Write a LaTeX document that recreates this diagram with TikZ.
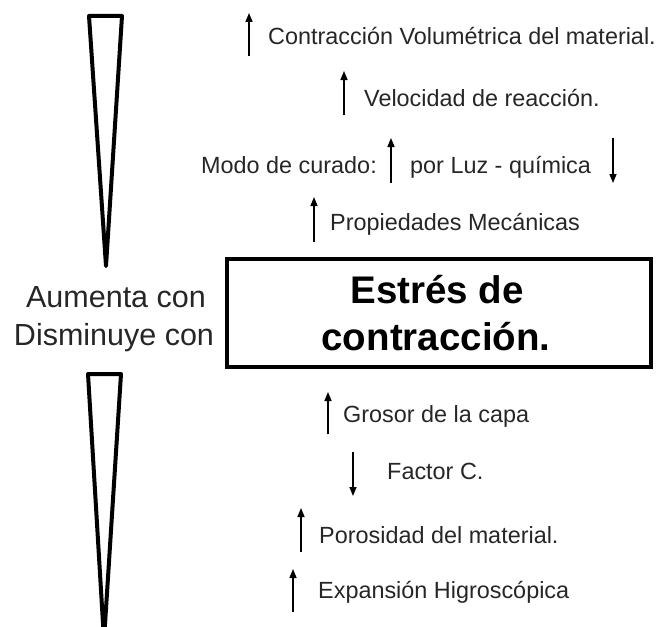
\documentclass[tikz,border=0pt]{standalone}
\usepackage{fontspec}
\setmainfont{Liberation Sans}
\usetikzlibrary{arrows.meta}
\definecolor{txt}{HTML}{262626}
\tikzset{
  lbl/.style={anchor=base west, inner sep=0pt, text=txt, font=\fontsize{23.4}{27}\selectfont},
  side/.style={anchor=base, inner sep=0pt, text=txt, font=\fontsize{30.5}{35}\selectfont},
  big/.style={anchor=base, inner sep=0pt, text=black, font=\fontsize{38.5}{44}\selectfont\bfseries},
  wedge/.style={draw=black, line width=4pt, line join=round},
  upar/.style={line width=1.5pt, -{Triangle[length=9pt,width=7pt]}},
  boxline/.style={draw=black, line width=4pt}
}
\begin{document}
\begin{tikzpicture}[x=1pt,y=-1pt]
\useasboundingbox (0,0) rectangle (658,626);
\begin{scope}
\clip (0,0) rectangle (658,626);
% wedges
\draw[wedge] (89,16) -- (122,16) -- (106,266) -- cycle;
\draw[wedge] (88,374) -- (121,374) -- (104,640) -- cycle;
\end{scope}
% central box
\draw[boxline] (227,259) rectangle (651,367);
\node[big] (t1) at (437,303) {Estrés de};
\node[big] (t2) at (436,350) {contracción.};
% side labels
\node[side] (aum) at (116,307) {Aumenta con};
\node[side] (dis) at (114,345) {Disminuye con};
% upper items
\draw[upar] (249,56) -- (249,13);
\node[lbl] (c1) at (268,45) {Contracción Volumétrica del material.};
\draw[upar] (344,115) -- (344,71);
\node[lbl] (c2) at (364,106) {Velocidad de reacción.};
\node[lbl, anchor=base east] (c3a) at (377,173) {Modo de curado:};
\draw[upar] (391,183) -- (391,138);
\node[lbl] (c3b) at (410,173) {por Luz - química};
\draw[upar] (613,138) -- (613,183);
\draw[upar] (314,242) -- (314,197);
\node[lbl] (c4) at (330,230) {Propiedades Mecánicas};
% lower items
\draw[upar] (328,434) -- (328,392);
\node[lbl] (d1) at (343,422) {Grosor de la capa};
\draw[upar] (353,452) -- (353,496);
\node[lbl] (d2) at (387,479) {Factor C.};
\draw[upar] (301,552) -- (301,508);
\node[lbl] (d3) at (319,543) {Porosidad del material.};
\draw[upar] (293,612) -- (293,569);
\node[lbl] (d4) at (318,598) {Expansión Higroscópica};
\end{tikzpicture}
\end{document}
